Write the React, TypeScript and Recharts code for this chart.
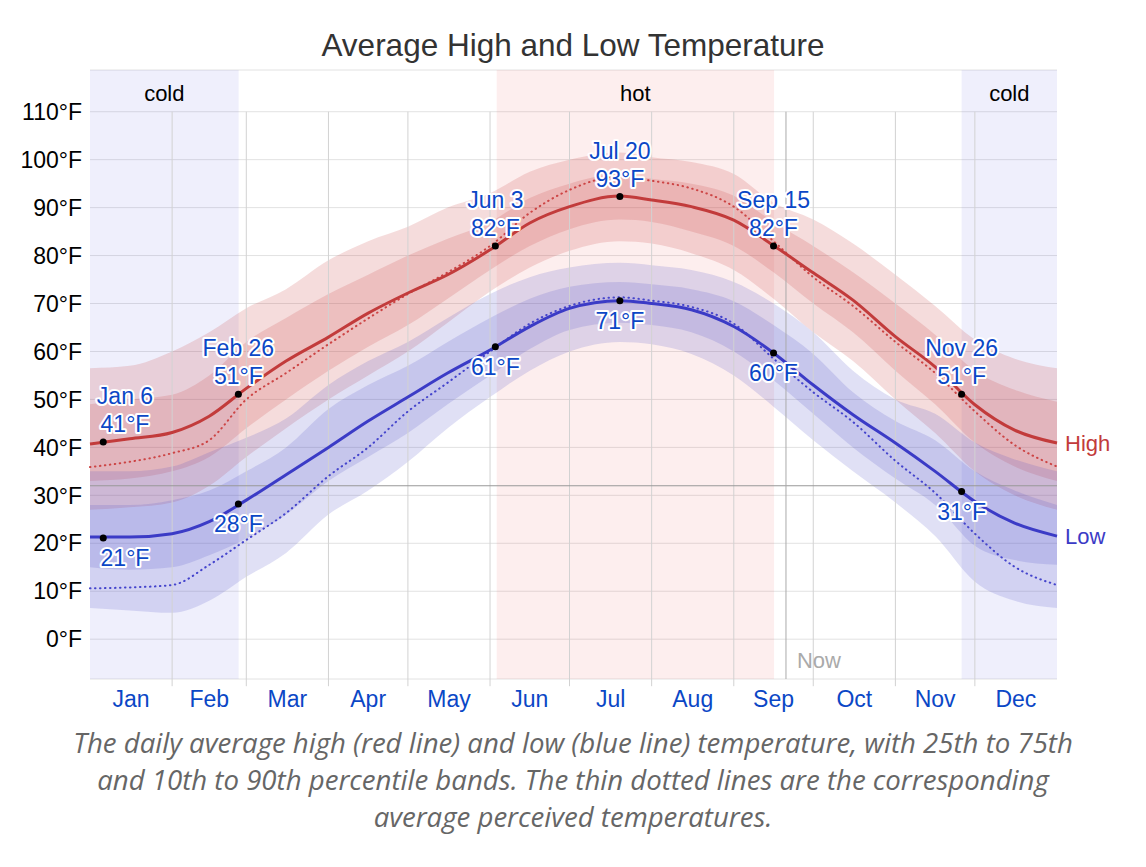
import React from "react"
import {
  ComposedChart,
  Area,
  Line,
  Scatter,
  XAxis,
  YAxis,
  CartesianGrid,
  ReferenceArea,
  ReferenceLine,
} from "recharts"

// day of year samples (0 = Jan 1)
const days = [0, 15, 31, 45, 59, 74, 90, 105, 120, 135, 151, 166, 181, 200, 212, 227, 243, 258, 273, 288, 304, 319, 334, 349, 365]

const highAvg = [40.7, 41.8, 43.1, 46.5, 52.3, 58, 63, 68, 72.2, 76, 81.2, 86.8, 90.2, 92.4, 91.6, 90.2, 87.4, 82.1, 76.4, 70.7, 63.1, 56.8, 48.9, 43.6, 40.9]
const highP10 = [27, 27.5, 28.5, 32, 38, 44, 50, 55, 60, 66, 72.5, 77.5, 81, 83, 82.5, 80.5, 77, 71, 64, 58, 50, 43, 35, 30, 27]
const highP25 = [33, 33.5, 35, 38, 44, 50, 56, 61, 65.5, 71, 77, 82, 85.5, 87.5, 87, 85, 82, 76.5, 70, 64, 56, 49, 41, 36, 33]
const highP75 = [49, 50, 51, 55, 62, 67, 72, 76, 80, 83.5, 87, 92, 95, 97, 96, 95, 92.5, 87, 82, 76.5, 70, 63.5, 56, 52, 49.5]
const highP90 = [56.5, 57, 60, 64, 69, 73, 79, 83, 86, 90, 93, 97.5, 100, 101.5, 100.5, 99.5, 97, 91, 87.5, 82.5, 76, 69.5, 62.5, 58.5, 56.5]
const highFeel = [35.9, 37, 38.8, 41.5, 50, 55.5, 61.5, 66.9, 72, 76.5, 82, 88.9, 93.7, 96.5, 95.6, 94, 90.2, 83, 75.5, 69.5, 62, 55.5, 47.5, 40.5, 36]

const lowAvg = [21.3, 21.3, 22, 24.5, 29, 34.3, 40, 45.5, 50.5, 55.5, 60.3, 65.2, 69, 70.6, 70, 68.7, 65.2, 59.7, 53, 46.8, 40.9, 35, 28.7, 24.2, 21.5]
const lowP10 = [6.5, 6, 5.5, 8, 13, 18, 26, 31, 37, 44, 50.5, 56, 60, 62, 61.5, 59.5, 55, 48.5, 41.5, 35, 28.5, 21.5, 12, 8, 6.5]
const lowP25 = [15, 14.5, 15, 17.5, 21, 26, 33, 38, 43, 49, 55, 60.5, 64.5, 66, 65.5, 64, 60, 54, 47, 40, 33.5, 28, 19.5, 16.5, 15.5]
const lowP75 = [28, 28, 29, 31, 35, 40, 48, 53, 57, 62, 67, 71, 73.5, 74.5, 74, 73, 70.5, 65.5, 59.5, 51.5, 45.5, 41.5, 35, 31, 28]
const lowP90 = [35, 35, 36, 39, 42, 46, 53, 58, 62, 67, 72, 75.5, 77.5, 78.5, 78, 77, 74.5, 70, 64, 56, 50, 47, 41, 37.5, 35]
const lowFeel = [10.6, 10.8, 11.3, 15.5, 20.7, 26.3, 34, 40, 47.5, 53.5, 60, 65.8, 69.5, 71.3, 70.6, 69.3, 65.8, 58.5, 51.5, 45.3, 37.2, 30.5, 22, 15.1, 11.3]

// axis
const monthNames = ["Jan", "Feb", "Mar", "Apr", "May", "Jun", "Jul", "Aug", "Sep", "Oct", "Nov", "Dec"]
const monthMids = [15.5, 45, 74.5, 105, 135.5, 166, 196.5, 227.5, 258, 288.5, 319, 349.5]
const monthStarts = [31, 59, 90, 120, 151, 181, 212, 243, 273, 304, 334]
const tempTicks = [0, 10, 20, 30, 40, 50, 60, 70, 80, 90, 100, 110]

// seasons / markers
const coldSpans = [[0, 56.1], [329, 365]]
const hotSpan = [153.5, 258.2]
const nowDay = 262.7
const freezing = 32

// annotated days
const noteDays = [5, 56, 153, 200, 258, 329]
const noteDates = ["Jan 6", "Feb 26", "Jun 3", "Jul 20", "Sep 15", "Nov 26"]
const noteHigh = [41, 51, 82, 93, 82, 51]
const noteHighAt = [41.1, 51.1, 82, 92.3, 82, 51.1]
const noteLow = [21, 28, 61, 71, 60, 31]
const noteLowAt = [21.1, 28.2, 61, 70.6, 59.7, 30.8]

const rows = days.map((d, i) => ({
  day: d,
  high: highAvg[i],
  low: lowAvg[i],
  highFeel: highFeel[i],
  lowFeel: lowFeel[i],
  highOuter: [highP10[i], highP90[i]],
  highInner: [highP25[i], highP75[i]],
  lowOuter: [lowP10[i], lowP90[i]],
  lowInner: [lowP25[i], lowP75[i]],
}))

const highNotes = noteDays.map((d, i) => ({ day: d, temp: noteHighAt[i], date: noteDates[i], text: `${noteHigh[i]}°F` }))
const lowNotes = noteDays.map((d, i) => ({ day: d, temp: noteLowAt[i], text: `${noteLow[i]}°F` }))

const FONT = "'Liberation Sans', Arial, Helvetica, sans-serif"
const BLUE_TEXT = "#0b47c6"
const RED = "#c23b3b"
const BLUE = "#3b3bc6"
const MIN_LABEL_X = 125

const haloProps = {
  stroke: "#fff",
  strokeWidth: 4,
  strokeLinejoin: "round" as const,
  paintOrder: "stroke" as const,
  fill: BLUE_TEXT,
  fontSize: 23,
  textAnchor: "middle" as const,
  fontFamily: FONT,
}

const HighNote = (props: any) => {
  const { cx, cy, payload } = props
  if (cx == null || cy == null) return null
  const lx = Math.max(cx, MIN_LABEL_X)
  return (
    <g>
      <text x={lx} y={cy - 38} {...haloProps}>{payload.date}</text>
      <text x={lx} y={cy - 10} {...haloProps}>{payload.text}</text>
      <circle cx={cx} cy={cy} r={3.5} fill="#000" />
    </g>
  )
}

const LowNote = (props: any) => {
  const { cx, cy, payload } = props
  if (cx == null || cy == null) return null
  const lx = Math.max(cx, MIN_LABEL_X)
  return (
    <g>
      <text x={lx} y={cy + 28} {...haloProps}>{payload.text}</text>
      <circle cx={cx} cy={cy} r={3.5} fill="#000" />
    </g>
  )
}

const endLabel = (name: string, color: string) => (props: any) => {
  const { x, y, index } = props
  if (index !== rows.length - 1) return null
  return (
    <text x={x + 8} y={y + 8} fill={color} fontSize={22} fontFamily={FONT}>
      {name}
    </text>
  )
}

export default function App() {
  return (
    <div style={{ position: "absolute", left: 0, top: 0, width: 1146, height: 867, background: "#fff", fontFamily: FONT }}>
      <div style={{ position: "absolute", top: 26, left: 0, width: 1146, textAlign: "center", fontSize: 31.5, lineHeight: "38px", color: "#333" }}>
        Average High and Low Temperature
      </div>

      <ComposedChart
        width={1146}
        height={720}
        data={rows}
        margin={{ top: 70, right: 89, bottom: 11, left: 10 }}
        style={{ position: "absolute", left: 0, top: 0 }}
      >
        <ReferenceArea x1={coldSpans[0][0]} x2={coldSpans[0][1]} fill="#4b4bdc" fillOpacity={0.09} stroke="none" ifOverflow="visible"
          label={{ value: "cold", position: "insideTop", offset: 15, fill: "#000", fontSize: 22, fontFamily: FONT }} />
        <ReferenceArea x1={coldSpans[1][0]} x2={coldSpans[1][1]} fill="#4b4bdc" fillOpacity={0.09} stroke="none" ifOverflow="visible"
          label={{ value: "cold", position: "insideTop", offset: 15, fill: "#000", fontSize: 22, fontFamily: FONT }} />
        <ReferenceArea x1={hotSpan[0]} x2={hotSpan[1]} fill="#e84040" fillOpacity={0.09} stroke="none" ifOverflow="visible"
          label={{ value: "hot", position: "insideTop", offset: 15, fill: "#000", fontSize: 22, fontFamily: FONT }} />

        <CartesianGrid vertical={false} stroke="#e2e2e2" />

        {monthStarts.map((d) => (
          <ReferenceLine key={d} segment={[{ x: d, y: 110 }, { x: d, y: -9.8 }]} stroke="#d2d2d2" ifOverflow="visible" />
        ))}
        <ReferenceLine y={freezing} stroke="#999" />
        <ReferenceLine
          segment={[{ x: nowDay, y: 110 }, { x: nowDay, y: -8.3 }]}
          stroke="#aaa"
          ifOverflow="visible"
          label={{ value: "Now", position: "insideBottomLeft", offset: 11, fill: "#aaa", fontSize: 22, fontFamily: FONT }}
        />

        <XAxis
          dataKey="day"
          type="number"
          domain={[0, 365]}
          ticks={monthMids}
          tickFormatter={(v: number) => monthNames[monthMids.indexOf(v)]}
          tick={{ fill: BLUE_TEXT, fontSize: 23, fontFamily: FONT }}
          tickLine={false}
          axisLine={false}
          tickMargin={6}
          height={30}
          interval={0}
        />
        <YAxis
          type="number"
          domain={[-8.3, 118.7]}
          allowDataOverflow
          ticks={tempTicks}
          tickFormatter={(v: number) => `${v}°F`}
          tick={{ fill: "#000", fontSize: 23, fontFamily: FONT }}
          tickLine={false}
          axisLine={false}
          tickMargin={2}
          width={80}
          interval={0}
        />

        <Area dataKey="highOuter" type="monotone" fill="#cc4444" fillOpacity={0.19} stroke="none" isAnimationActive={false} activeDot={false} />
        <Area dataKey="highInner" type="monotone" fill="#cc4444" fillOpacity={0.19} stroke="none" isAnimationActive={false} activeDot={false} />
        <Area dataKey="lowOuter" type="monotone" fill="#4848c4" fillOpacity={0.17} stroke="none" isAnimationActive={false} activeDot={false} />
        <Area dataKey="lowInner" type="monotone" fill="#4848c4" fillOpacity={0.17} stroke="none" isAnimationActive={false} activeDot={false} />

        <Line dataKey="highFeel" type="monotone" stroke="#cc4444" strokeWidth={2} strokeDasharray="0.5 4.5" strokeLinecap="round" dot={false} activeDot={false} isAnimationActive={false} />
        <Line dataKey="lowFeel" type="monotone" stroke="#4444cc" strokeWidth={2} strokeDasharray="0.5 4.5" strokeLinecap="round" dot={false} activeDot={false} isAnimationActive={false} />
        <Line dataKey="high" type="monotone" stroke={RED} strokeWidth={3} dot={false} activeDot={false} isAnimationActive={false} label={endLabel("High", RED)} />
        <Line dataKey="low" type="monotone" stroke={BLUE} strokeWidth={3} dot={false} activeDot={false} isAnimationActive={false} label={endLabel("Low", BLUE)} />

        <Scatter data={highNotes} dataKey="temp" shape={<HighNote />} isAnimationActive={false} />
        <Scatter data={lowNotes} dataKey="temp" shape={<LowNote />} isAnimationActive={false} />
      </ComposedChart>

      <div
        style={{
          position: "absolute",
          top: 724,
          left: 0,
          width: 1146,
          textAlign: "center",
          fontFamily: "'Open Sans', sans-serif",
          fontStyle: "italic",
          fontSize: 27.6,
          lineHeight: "37px",
          color: "#666",
        }}
      >
        The daily average high (red line) and low (blue line) temperature, with 25th to 75th
        <br />
        and 10th to 90th percentile bands. The thin dotted lines are the corresponding
        <br />
        average perceived temperatures.
      </div>
    </div>
  )
}
